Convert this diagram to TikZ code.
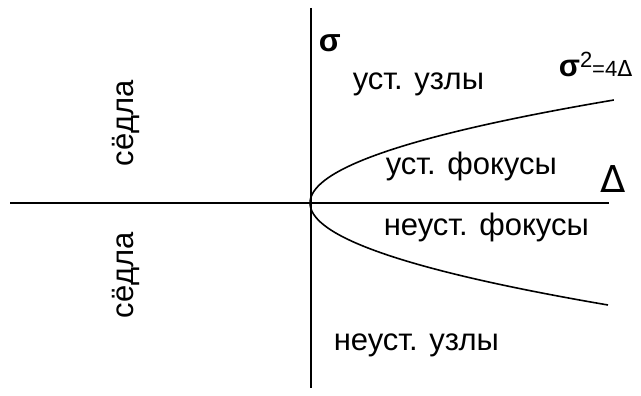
\documentclass[tikz,border=0pt]{standalone}
\usepackage{fontspec}
\setmainfont{Liberation Sans}
\newfontfamily\dvs{DejaVu Sans}
\begin{document}
\begin{tikzpicture}[x=1pt,y=-1pt,line width=1.6pt,
  lbl/.style={inner sep=0pt,font=\fontsize{31}{31}\selectfont},
  rlbl/.style={inner sep=0pt,font=\fontsize{31}{31}\selectfont,rotate=90}]
\useasboundingbox (0,0) rectangle (641,396);
\coordinate (hl) at (10,203);
\coordinate (hr) at (609,203);
\coordinate (vt) at (311,8);
\coordinate (vb) at (311,388);
\draw (hl) -- (hr);
\draw (vt) -- (vb);
\draw plot[domain=-103:102,samples=80,smooth] ({310+0.02864*\x*\x},{203+\x});
\node[inner sep=0pt,anchor=base west,font=\fontsize{32}{32}\selectfont\bfseries] (sig) at (318,52) {σ};
\node[inner sep=0pt,anchor=base west,font=\fontsize{37}{37}\selectfont\dvs] (del) at (600,193) {Δ};
\node[lbl,anchor=base west] (a) at (352,90) {уст. узлы};
\node[lbl,anchor=base west] (b) at (385,175) {уст. фокусы};
\node[lbl,anchor=base west] (c) at (383,235) {неуст. фокусы};
\node[lbl,anchor=base west] (d) at (333,350) {неуст. узлы};
\node[rlbl,anchor=base] (s1) at (133,123) {сёдла};
\node[rlbl,anchor=base] (s2) at (133,275) {сёдла};
\node[inner sep=0pt,anchor=base west] (eq) at (558,77) {{\fontsize{31}{31}\selectfont\bfseries σ}\raisebox{9pt}{\fontsize{22}{22}\selectfont 2}{\fontsize{22}{22}\selectfont=4{\dvs\fontsize{22}{22}\selectfont Δ}}};
\end{tikzpicture}
\end{document}
